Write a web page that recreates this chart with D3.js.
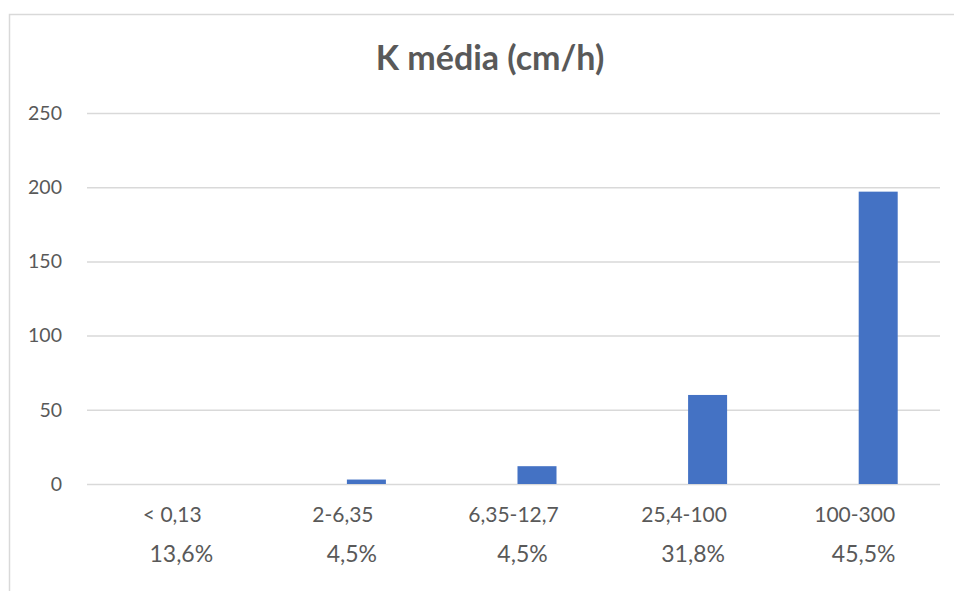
<!DOCTYPE html>
<html>
<head>
<meta charset="utf-8">
<script src="https://cdn.jsdelivr.net/npm/d3@7"></script>
<style>
  html, body { margin: 0; padding: 0; background: #fff; }
  svg { display: block; }
</style>
</head>
<body>
<svg id="chart" width="954" height="591"></svg>
<script>
// Permeability classes (cm/h), their share of samples, and mean K per class
const categories = ["< 0,13", "2-6,35", "6,35-12,7", "25,4-100", "100-300"];
const shares = ["13,6%", "4,5%", "4,5%", "31,8%", "45,5%"];
const values = [0, 3, 12, 60, 197];
const yTicks = [0, 50, 100, 150, 200, 250];
const title = "K média (cm/h)";

const W = 954, H = 591;
const margin = { left: 87, right: 14, top: 113, bottom: 107 };
const font = "Lato, 'Noto Sans', sans-serif";
const textColor = "#595959";

const svg = d3.select("#chart");

// Outer chart frame (right and bottom edges run past the page)
svg.append("rect")
  .attr("x", 9.5).attr("y", 14.5)
  .attr("width", 980).attr("height", 620)
  .attr("fill", "#fff")
  .attr("stroke", "#d9d9d9").attr("stroke-width", 1.5);

const x = d3.scaleBand()
  .domain(categories)
  .range([margin.left, W - margin.right]);

const y = d3.scaleLinear()
  .domain([0, 250])
  .range([H - margin.bottom, margin.top]);

// Two slots per band; the bar occupies the right-hand slot
const slot = d3.scaleBand()
  .domain(["left", "right"])
  .range([0, x.bandwidth()])
  .paddingInner(0.17)
  .paddingOuter(0.9);

// Gridlines and value labels
const yAxis = d3.axisLeft(y).tickValues(yTicks).tickSize(-(W - margin.left - margin.right)).tickFormat(d => d);
const gy = svg.append("g")
  .attr("transform", `translate(${margin.left},0)`)
  .call(yAxis);
gy.select(".domain").remove();
gy.selectAll(".tick line")
  .attr("stroke", "#d9d9d9").attr("stroke-width", 1.5);
gy.selectAll(".tick text")
  .attr("x", -25)
  .attr("fill", textColor)
  .style("font-family", font)
  .style("font-size", "19.5px");

// Bars
svg.append("g")
  .selectAll("rect")
  .data(categories)
  .join("rect")
  .attr("x", (c) => x(c) + slot("right"))
  .attr("width", slot.bandwidth())
  .attr("y", (c, i) => y(values[i]))
  .attr("height", (c, i) => y(0) - y(values[i]))
  .attr("fill", "#4472C4");

// Category labels
const xAxis = d3.axisBottom(x).tickSize(0).tickPadding(0);
const gx = svg.append("g")
  .attr("transform", `translate(0,${y(0)})`)
  .call(xAxis);
gx.select(".domain").remove();
gx.selectAll(".tick text")
  .attr("y", 38)
  .attr("dy", 0)
  .attr("fill", textColor)
  .style("font-family", font)
  .style("font-size", "21px");

// Share of samples under each class label
svg.append("g")
  .selectAll("text")
  .data(categories)
  .join("text")
  .attr("x", c => x(c) + x.bandwidth() / 2 + 9)
  .attr("y", y(0) + 78)
  .attr("text-anchor", "middle")
  .attr("fill", textColor)
  .style("font-family", font)
  .style("font-size", "23px")
  .text((c, i) => shares[i]);

// Title
svg.append("text")
  .attr("x", 490)
  .attr("y", 70)
  .attr("text-anchor", "middle")
  .attr("fill", textColor)
  .style("font-family", font)
  .style("font-size", "34px")
  .style("font-weight", "bold")
  .text(title);
</script>
</body>
</html>
